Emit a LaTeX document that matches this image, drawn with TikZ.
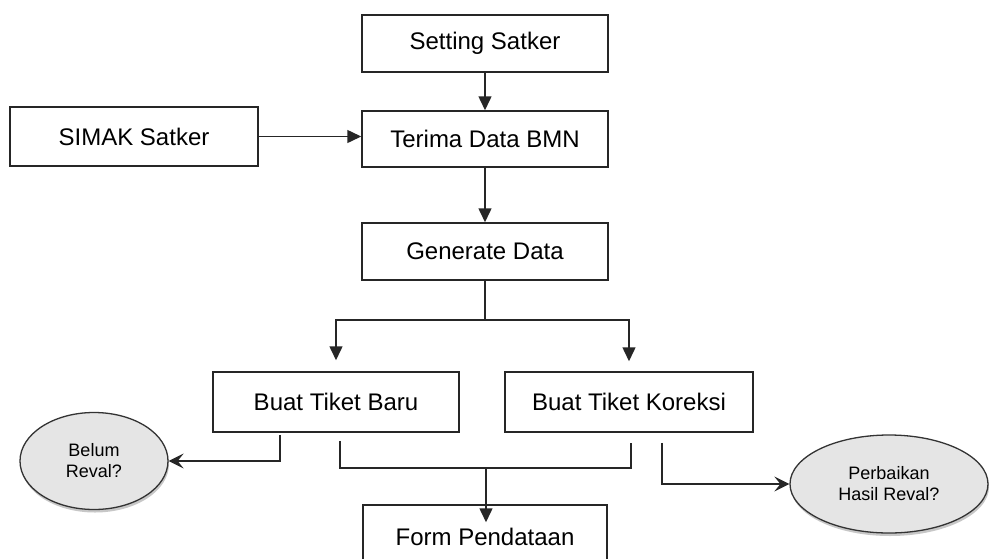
\documentclass[tikz,border=0pt]{standalone}
\usepackage{fontspec}
\setmainfont{Liberation Sans}
\usetikzlibrary{arrows.meta,shapes.geometric,shadows}
\begin{document}
\begin{tikzpicture}[x=1pt,y=-1pt,
  boxnode/.style={draw=black!85, line width=1.5pt, fill=white, minimum width=246pt, minimum height=57pt, inner sep=0pt, font=\fontsize{24}{28}\selectfont},
  ovalnode/.style={ellipse, draw=black!80, line width=1.3pt, fill=gray!20, inner sep=0pt, align=center, font=\fontsize{18}{21}\selectfont, drop shadow={shadow xshift=1pt, shadow yshift=-3pt, fill=gray!55, opacity=0.8}},
  conn/.style={draw=black!85, line width=1.5pt},
  tri/.style={conn, -{Triangle[width=13pt,length=14pt]}},
  barb/.style={conn, -{Stealth[width=15pt,length=15pt,inset=6pt]}}]
\useasboundingbox (0,0) rectangle (989,558);
\fill[white] (0,0) rectangle (989,558);

\node[boxnode] (set) at (485,43.5) {Setting Satker};
\node[boxnode, minimum height=56pt] (terima) at (485,139) {Terima Data BMN};
\node[boxnode, minimum width=248pt, minimum height=59pt] (simak) at (134,136.5) {SIMAK Satker};
\node[boxnode] (gen) at (485,251.5) {Generate Data};
\node[boxnode, minimum height=60pt] (baru) at (336,402) {Buat Tiket Baru};
\node[boxnode, minimum width=248pt, minimum height=60pt] (kor) at (629,402) {Buat Tiket Koreksi};
\node[boxnode, minimum width=244pt, minimum height=64pt] (form) at (485,537) {Form Pendataan};

\node[ovalnode, minimum width=148pt, minimum height=97pt] (belum) at (94,461) {Belum\\Reval?};
\node[ovalnode, minimum width=198pt, minimum height=98pt] (perb) at (889,484) {Perbaikan\\Hasil Reval?};

\draw[tri] (set) -- (terima);
\draw[tri] (simak.east) -- (terima.west |- simak.east);
\draw[tri] (terima) -- (gen);

\coordinate (split) at (485,320);
\draw[tri, shorten >=11pt] (gen.south) -- (split) -| (baru.north);
\draw[tri, shorten >=10pt] (split) -| (kor.north);

\coordinate (join) at (486,468);
\draw[conn] ([shift={(4pt,-8pt)}]baru.south) |- (join) -| ([shift={(2pt,-10pt)}]kor.south);
\draw[tri] (join) -- ([yshift=-18pt]join |- form.north);

\draw[barb] ([shift={(-56pt,-2pt)}]baru.south) |- (belum.east);
\draw[barb] ([shift={(33pt,-10pt)}]kor.south) |- (perb.west);
\end{tikzpicture}
\end{document}
